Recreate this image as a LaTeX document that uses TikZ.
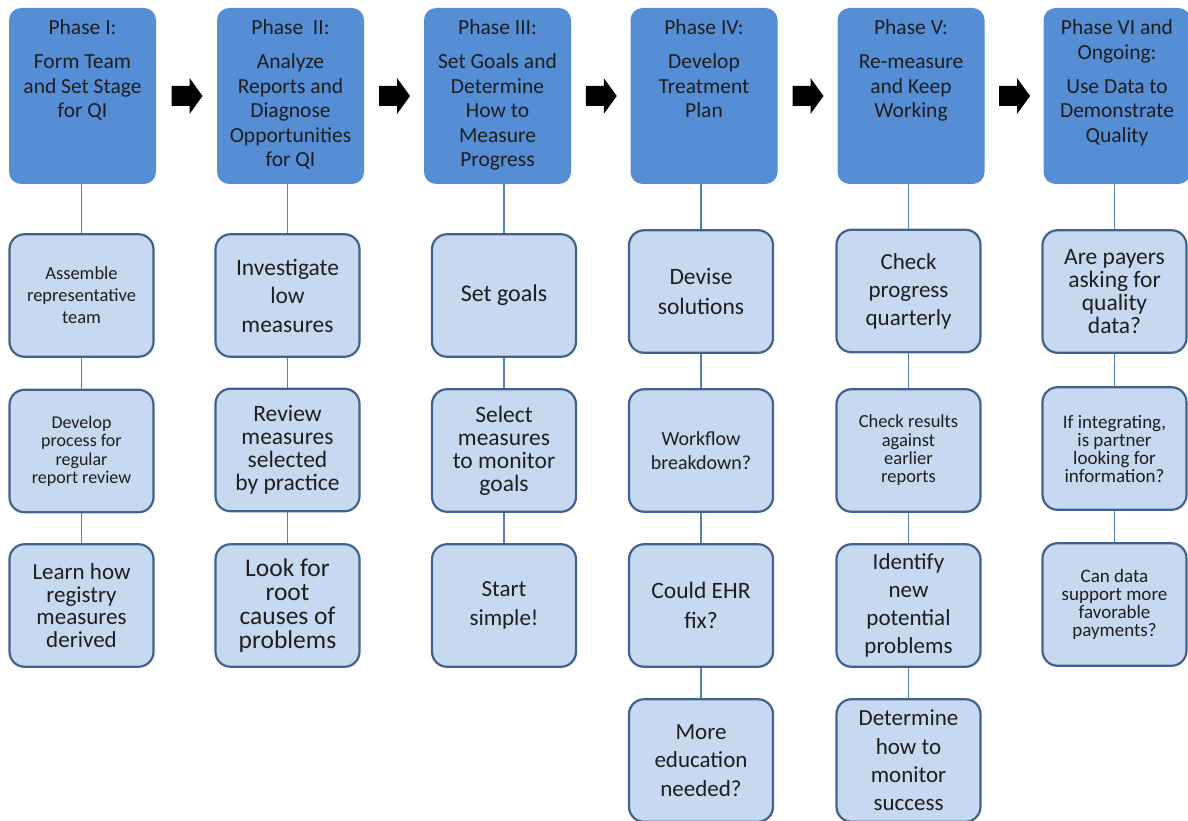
\documentclass[tikz,border=0pt]{standalone}
\usepackage{fontspec}
\setmainfont{Carlito}
\usetikzlibrary{calc}
\definecolor{phaseblue}{HTML}{558ED5}
\definecolor{taskfill}{HTML}{C6D9F1}
\definecolor{taskline}{HTML}{41628E}
\definecolor{linkblue}{HTML}{4F81BD}
\definecolor{ink}{HTML}{1E1E1E}
\begin{document}
\begin{tikzpicture}[x=1pt,y=-1pt,
  phase/.style={rectangle, rounded corners=12pt, fill=phaseblue, minimum width=147pt, minimum height=176pt, inner sep=0pt},
  phasetext/.style={anchor=north, align=center, inner sep=0pt, text=ink, font=\fontsize{21.5}{24.5}\selectfont},
  task/.style 2 args={rectangle, rounded corners=15pt, draw=taskline, line width=2.2pt, fill=taskfill, minimum width=144pt, minimum height=122.5pt, align=center, text=ink, inner sep=2pt, font=\fontsize{#1}{#2}\selectfont},
  link/.style={draw=linkblue, line width=1.4pt}]
  \useasboundingbox (0,0) rectangle (1188,821);
  \clip (0,0) rectangle (1188,821);

  % phase headers
  \node[phase] (h1) at (82.5,96) {};
  \node[phase] (h2) at (290.5,96) {};
  \node[phase] (h3) at (497.5,96) {};
  \node[phase] (h4) at (704,96) {};
  \node[phase] (h5) at (911,96) {};
  \node[phase] (h6) at (1117,96) {};
  \node[phasetext] (t1) at ([yshift=-12pt]h1.north) {Phase I:\\[9.5pt]Form Team\\and Set Stage\\for QI};
  \node[phasetext] (t2) at ([yshift=-12pt]h2.north) {Phase\ \ II:\\[9.5pt]Analyze\\Reports and\\Diagnose\\Opportunities\\for QI};
  \node[phasetext] (t3) at ([yshift=-12pt]h3.north) {Phase III:\\[9.5pt]Set Goals and\\Determine\\How to\\Measure\\Progress};
  \node[phasetext] (t4) at ([yshift=-12pt]h4.north) {Phase IV:\\[9.5pt]Develop\\Treatment\\Plan};
  \node[phasetext] (t5) at ([yshift=-12pt]h5.north) {Phase V:\\[9.5pt]Re-measure\\and Keep\\Working};
  \node[phasetext] (t6) at ([yshift=-12pt]h6.north) {Phase VI and\\Ongoing:\\[9.5pt]Use Data to\\Demonstrate\\Quality};

  % block arrows between phases
  \coordinate (a12) at ($(h1.east)!0.5!(h2.west)$);
  \coordinate (a23) at ($(h2.east)!0.5!(h3.west)$);
  \coordinate (a34) at ($(h3.east)!0.5!(h4.west)$);
  \coordinate (a45) at ($(h4.east)!0.5!(h5.west)$);
  \coordinate (a56) at ($(h5.east)!0.5!(h6.west)$);
  \foreach \a in {a12,a23,a34,a45,a56}
    \fill[black] (\a) ++(-15,-10) -- ++(18,0) -- ++(0,-8) -- ++(13,18) -- ++(-13,18) -- ++(0,-8) -- ++(-18,0) -- cycle;

  % phase I
  \node[task={18.5}{22}] (b11) at (81.5,295.5) {Assemble\\representative\\team};
  \node[task={18}{18.5}] (b12) at (81.5,451) {Develop\\process for\\regular\\report review};
  \node[task={23}{22.7}] (b13) at (81.5,605.5) {Learn how\\registry\\measures\\derived};
  % phase II
  \node[task={23.5}{28.5}] (b21) at (287.5,295.5) {Investigate\\low\\measures};
  \node[task={23.5}{23}] (b22) at (287.5,450) {Review\\measures\\selected\\by practice};
  \node[task={25.5}{24}] (b23) at (287.5,605.5) {Look for\\root\\causes of\\problems};
  % phase III
  \node[task={24}{29}] (b31) at (504,295.5) {Set goals};
  \node[task={23.5}{23}] (b32) at (504,450.5) {Select\\measures\\to monitor\\goals};
  \node[task={23}{29}] (b33) at (504,605.5) {Start\\simple!};
  % phase IV
  \node[task={23.5}{29.5}] (b41) at (701,291.5) {Devise\\solutions};
  \node[task={20}{24}] (b42) at (701,450.5) {Workflow\\breakdown?};
  \node[task={23.5}{29.5}] (b43) at (701,605.5) {Could EHR\\fix?};
  \node[task={23}{28.5}] (b44) at (701,760.5) {More\\education\\needed?};
  % phase V
  \node[task={23}{28}] (b51) at (908.5,291) {Check\\progress\\quarterly};
  \node[task={18.5}{18.3}] (b52) at (908.5,450.5) {Check results\\against\\earlier\\reports};
  \node[task={23}{28}] (b53) at (908.5,605.5) {Identify\\new\\potential\\problems};
  \node[task={23}{28.3}] (b54) at (908.5,760.5) {Determine\\how to\\monitor\\success};
  % phase VI
  \node[task={23.5}{22.8}] (b61) at (1114.5,291.5) {Are payers\\asking for\\quality\\data?};
  \node[task={19}{18}] (b62) at (1114.5,448.5) {If integrating,\\is partner\\looking for\\information?};
  \node[task={19}{18}] (b63) at (1114.5,604.5) {Can data\\support more\\favorable\\payments?};

  % connectors
  \draw[link] (h1.south -| b11.north) -- (b11.north);
  \draw[link] (h2.south -| b21.north) -- (b21.north);
  \draw[link] (h3.south -| b31.north) -- (b31.north);
  \draw[link] (h4.south -| b41.north) -- (b41.north);
  \draw[link] (h5.south -| b51.north) -- (b51.north);
  \draw[link] (h6.south -| b61.north) -- (b61.north);
  \draw[link] (b11) -- (b12); \draw[link] (b12) -- (b13);
  \draw[link] (b21) -- (b22); \draw[link] (b22) -- (b23);
  \draw[link] (b31) -- (b32); \draw[link] (b32) -- (b33);
  \draw[link] (b41) -- (b42); \draw[link] (b42) -- (b43); \draw[link] (b43) -- (b44);
  \draw[link] (b51) -- (b52); \draw[link] (b52) -- (b53); \draw[link] (b53) -- (b54);
  \draw[link] (b61) -- (b62); \draw[link] (b62) -- (b63);
\end{tikzpicture}
\end{document}
